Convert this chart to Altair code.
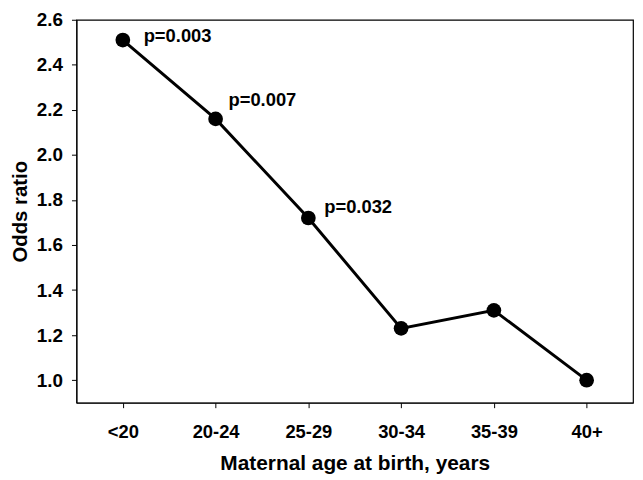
import altair as alt
import pandas as pd

ages = ["<20", "20-24", "25-29", "30-34", "35-39", "40+"]
odds = [2.51, 2.16, 1.72, 1.23, 1.31, 1.00]
pvals = ["p=0.003", "p=0.007", "p=0.032"]

df = pd.DataFrame({"age": ages, "odds": odds})

FONT = "Liberation Sans"

x = alt.X("age:N", sort=ages, scale=alt.Scale(padding=0.5),
          axis=alt.Axis(title="Maternal age at birth, years", labelAngle=0,
                        labelFontSize=18.5, labelFontWeight="bold", labelColor="black",
                        titleFontSize=21, titleFontWeight="bold", titleColor="black",
                        labelPadding=15, titlePadding=12, tickSize=5,
                        domainColor="black", tickColor="black", grid=False))
y = alt.Y("odds:Q", scale=alt.Scale(domain=[0.9, 2.6], nice=False, zero=False),
          axis=alt.Axis(title="Odds ratio", values=[1.0, 1.2, 1.4, 1.6, 1.8, 2.0, 2.2, 2.4, 2.6],
                        format=".1f", labelFontSize=19, labelFontWeight="bold", labelColor="black",
                        titleFontSize=20.5, titleFontWeight="bold", titleColor="black",
                        labelPadding=9, titlePadding=6, tickSize=5,
                        domainColor="black", tickColor="black", grid=False))

base = alt.Chart(df).encode(x=x, y=y)
line = base.mark_line(color="black", strokeWidth=3)
pts = base.mark_circle(color="black", size=220, opacity=1)

offsets = [(21, -4), (13, -19), (16, -11)]
layers = [line, pts]
for i, (lab, (dx, dy)) in enumerate(zip(pvals, offsets)):
    sub = pd.DataFrame({"age": [ages[i]], "odds": [odds[i]], "p": [lab]})
    layers.append(
        alt.Chart(sub).mark_text(align="left", baseline="middle", dx=dx, dy=dy,
                                 fontSize=18.5, fontWeight="bold", color="black",
                                 font=FONT).encode(x=x, y=y, text="p:N")
    )

chart = alt.layer(*layers).properties(
    width=561, height=386,
    autosize=alt.AutoSizeParams(type="none"),
    padding={"left": 69, "top": 10, "right": 2, "bottom": 70},
).configure(font=FONT).configure_view(stroke="black", strokeWidth=1.2)

chart.save("out.html", embed_options={"renderer": "svg", "actions": False})
